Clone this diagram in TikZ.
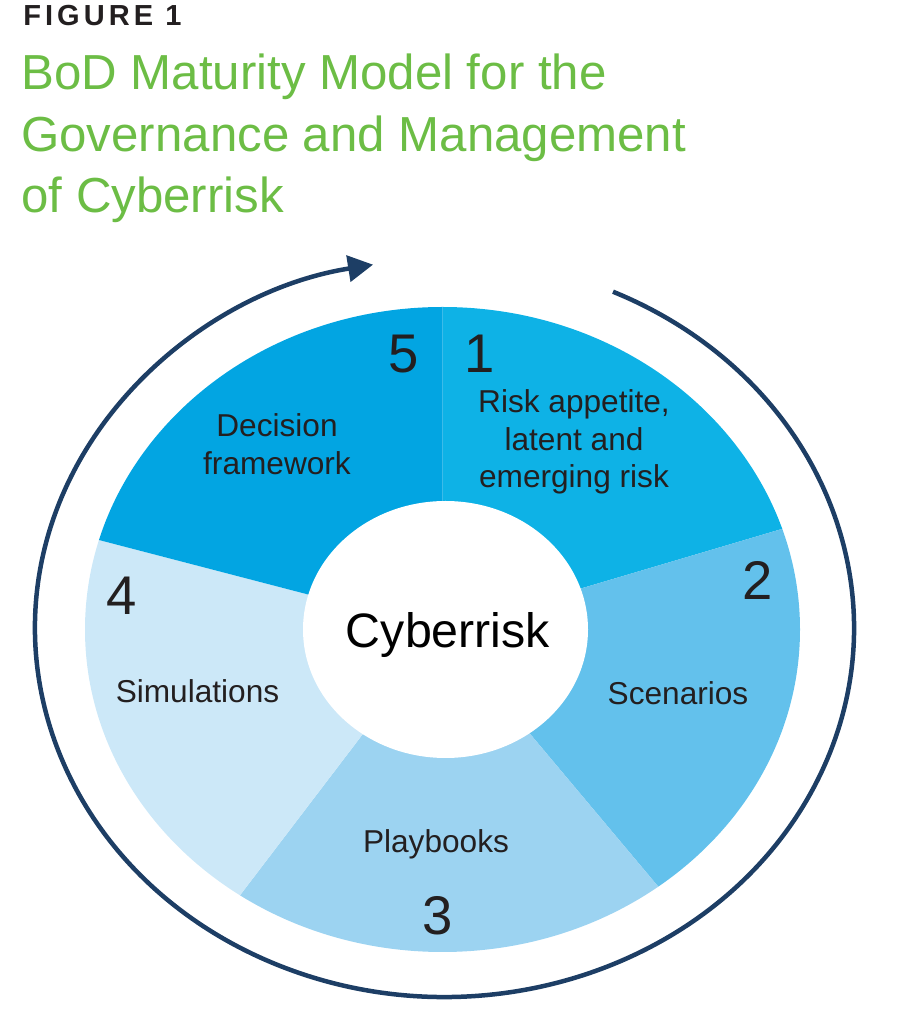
\documentclass[tikz,border=0pt]{standalone}
\usepackage{fontspec}
\setmainfont{Liberation Sans}
\usetikzlibrary{arrows.meta}
\definecolor{segone}{RGB}{14,178,230}
\definecolor{segtwo}{RGB}{99,193,236}
\definecolor{segthree}{RGB}{156,211,241}
\definecolor{segfour}{RGB}{204,232,248}
\definecolor{segfive}{RGB}{2,165,226}
\definecolor{ringblue}{RGB}{29,62,101}
\definecolor{titlegreen}{RGB}{108,189,69}
\definecolor{inkdark}{RGB}{35,31,32}
\tikzset{
	seglabel/.style={text=inkdark, inner sep=0pt, align=center, font=\fontsize{18}{21.3}\selectfont},
	segnum/.style={text=inkdark, inner sep=0pt, anchor=base, font=\fontsize{31}{36}\selectfont},
	cyclering/.style={draw=ringblue, line width=0.09cm, -{Triangle[length=0.5cm, width=0.52cm]}}
}

\begin{document}
\begin{tikzpicture}
		      \useasboundingbox (0,0) rectangle (18,20.2);

		      \node[anchor=base west, inner sep=0pt, text=inkdark, font=\fontsize{16.5}{19}\selectfont\bfseries\addfontfeature{LetterSpace=14}] (figlabel) at (0.46, 19.68) {FIGURE 1};
		      \node[anchor=north west, inner sep=0pt, text=titlegreen, align=left, font=\fontsize{28}{34.9}\selectfont] (title) at (0.42, 19.12) {BoD Maturity Model for the\\Governance and Management\\of Cyberrisk};

		      \begin{scope}[shift={(8.85,7.61)}]
		      \clip (0,0) ellipse [x radius=7.15, y radius=6.45];
		      \fill[segone] (0,0) -- (16.5:10) -- (53:10) -- (90:10) -- cycle;
		      \fill[segtwo] (0,0) -- (-50:10) -- (-17:10) -- (16.5:10) -- cycle;
		      \fill[segthree] (0,0) -- (-127.3:10) -- (-88.6:10) -- (-50:10) -- cycle;
		      \fill[segfour] (0,0) -- (165.4:10) -- (199:10) -- (232.7:10) -- cycle;
		      \fill[segfive] (0,0) -- (90:10) -- (127.7:10) -- (165.4:10) -- cycle;
		      \end{scope}

		      \fill[white] (8.91,7.61) ellipse [x radius=2.85, y radius=2.57];
		      \node[anchor=base, inner sep=0pt, text=black, font=\fontsize{27.5}{33}\selectfont] (core) at (8.96,7.24) {Cyberrisk};

		      \draw[cyclering] (8.89,7.64) ++(65.7:8.19 and 7.38) arc[start angle=65.7, end angle=-259.95, x radius=8.19, y radius=7.38];

		      \node[segnum] (numone) at (9.6,12.74) {1};
		      \node[segnum] (numtwo) at (15.16,8.2) {2};
		      \node[segnum] (numthree) at (8.76,1.5) {3};
		      \node[segnum] (numfour) at (2.44,7.9) {4};
		      \node[segnum] (numfive) at (8.08,12.74) {5};

		      \node[seglabel] (labone) at (11.48,11.36) {Risk appetite,\\latent and\\emerging risk};
		      \node[seglabel, anchor=base] (labtwo) at (13.56,6.1) {Scenarios};
		      \node[seglabel, anchor=base] (labthree) at (8.72,3.14) {Playbooks};
		      \node[seglabel, anchor=base] (labfour) at (3.95,6.14) {Simulations};
		      \node[seglabel] (labfive) at (5.54,11.32) {Decision\\framework};
	      \end{tikzpicture}
\end{document}
